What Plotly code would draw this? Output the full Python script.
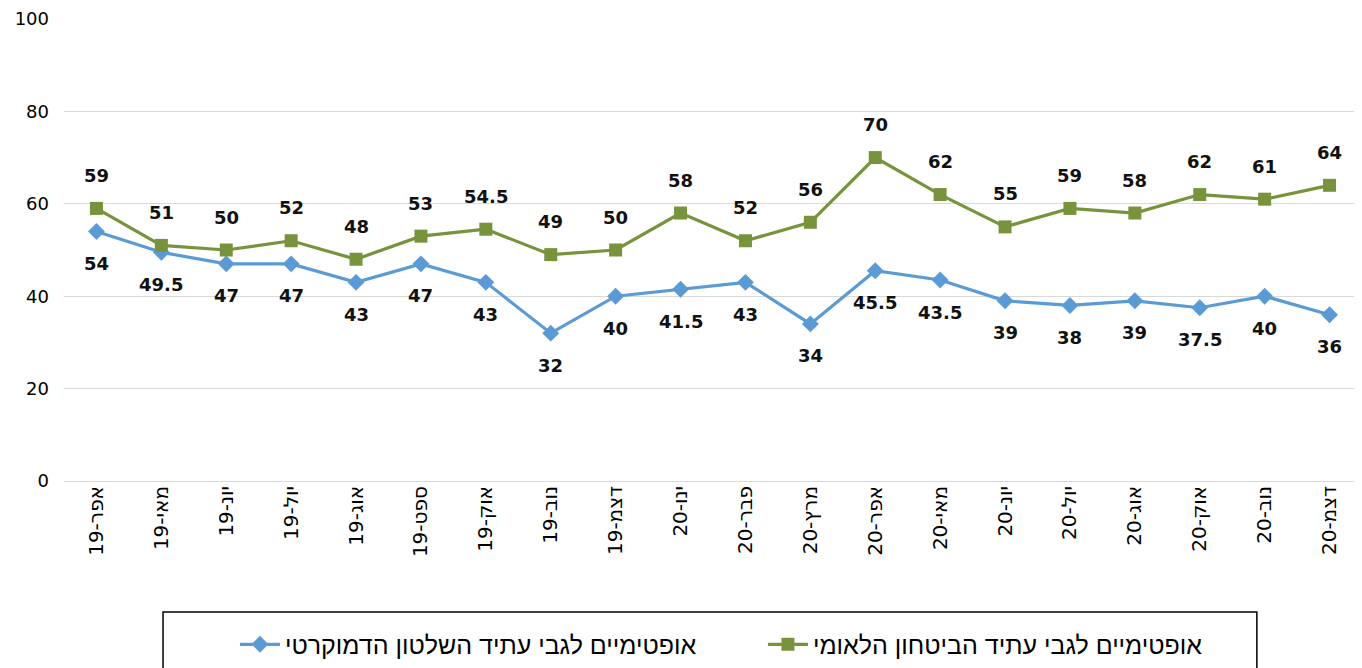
import plotly.graph_objects as go

months = ["אפר-19", "מאי-19", "יונ-19", "יול-19", "אוג-19", "ספט-19", "אוק-19", "נוב-19", "דצמ-19",
          "ינו-20", "פבר-20", "מרץ-20", "אפר-20", "מאי-20", "יונ-20", "יול-20", "אוג-20", "אוק-20",
          "נוב-20", "דצמ-20"]
security = [59, 51, 50, 52, 48, 53, 54.5, 49, 50, 58, 52, 56, 70, 62, 55, 59, 58, 62, 61, 64]
democracy = [54, 49.5, 47, 47, 43, 47, 43, 32, 40, 41.5, 43, 34, 45.5, 43.5, 39, 38, 39, 37.5, 40, 36]

name_sec = "אופטימיים לגבי עתיד הביטחון הלאומי"
name_dem = "אופטימיים לגבי עתיד השלטון הדמוקרטי"

BLUE = "#5B9BD5"
GREEN = "#77933C"

fig = go.Figure()
fig.add_trace(go.Scatter(x=months, y=democracy, name=name_dem, mode="lines+markers",
                         line=dict(color=BLUE, width=3.2),
                         marker=dict(symbol="diamond", size=13, color=BLUE)))
fig.add_trace(go.Scatter(x=months, y=security, name=name_sec, mode="lines+markers",
                         line=dict(color=GREEN, width=3.2),
                         marker=dict(symbol="square", size=13, color=GREEN)))

def fmt(v):
    return str(int(v)) if float(v).is_integer() else str(v)

lab_font = dict(family="DejaVu Sans", size=18, color="#111111")
for m, v in zip(months, security):
    fig.add_annotation(x=m, y=v, text="<b>" + fmt(v) + "</b>", showarrow=False,
                       yshift=33, font=lab_font)
for m, v in zip(months, democracy):
    fig.add_annotation(x=m, y=v, text="<b>" + fmt(v) + "</b>", showarrow=False,
                       yshift=-32, font=lab_font)

# legend frame
fig.add_shape(type="rect", xref="paper", yref="paper", x0=0.0763, x1=0.919, y0=-0.45, y1=-0.2835,
              line=dict(color="black", width=1.5), fillcolor="rgba(0,0,0,0)")

# the page body adds an 8px offset; compensate so the plot sits where the reference has it
fig.update_layout(
    width=1354, height=660,
    margin=dict(l=56, r=0, t=11, b=187),
    paper_bgcolor="white", plot_bgcolor="white",
    showlegend=True,
    legend=dict(orientation="h", x=0.1317, y=-0.354, xanchor="left", yanchor="middle",
                font=dict(family="Liberation Sans", size=25, color="black"),
                entrywidth=473, itemwidth=40, bgcolor="rgba(0,0,0,0)"),
    xaxis=dict(type="category", tickangle=-90, showgrid=False, showline=False, ticks="",
               tickfont=dict(family="DejaVu Sans", size=20, color="black"),
               range=[-0.5, len(months) - 0.5]),
    yaxis=dict(range=[0, 100], tickvals=[0, 20, 40, 60, 80, 100], showgrid=True,
               gridcolor="#D9D9D9", gridwidth=1, zeroline=True, zerolinecolor="#D9D9D9",
               zerolinewidth=1, showline=False, ticks="", ticklabelstandoff=14,
               tickfont=dict(family="DejaVu Sans", size=18, color="black")),
)

fig.write_html("out.html")
